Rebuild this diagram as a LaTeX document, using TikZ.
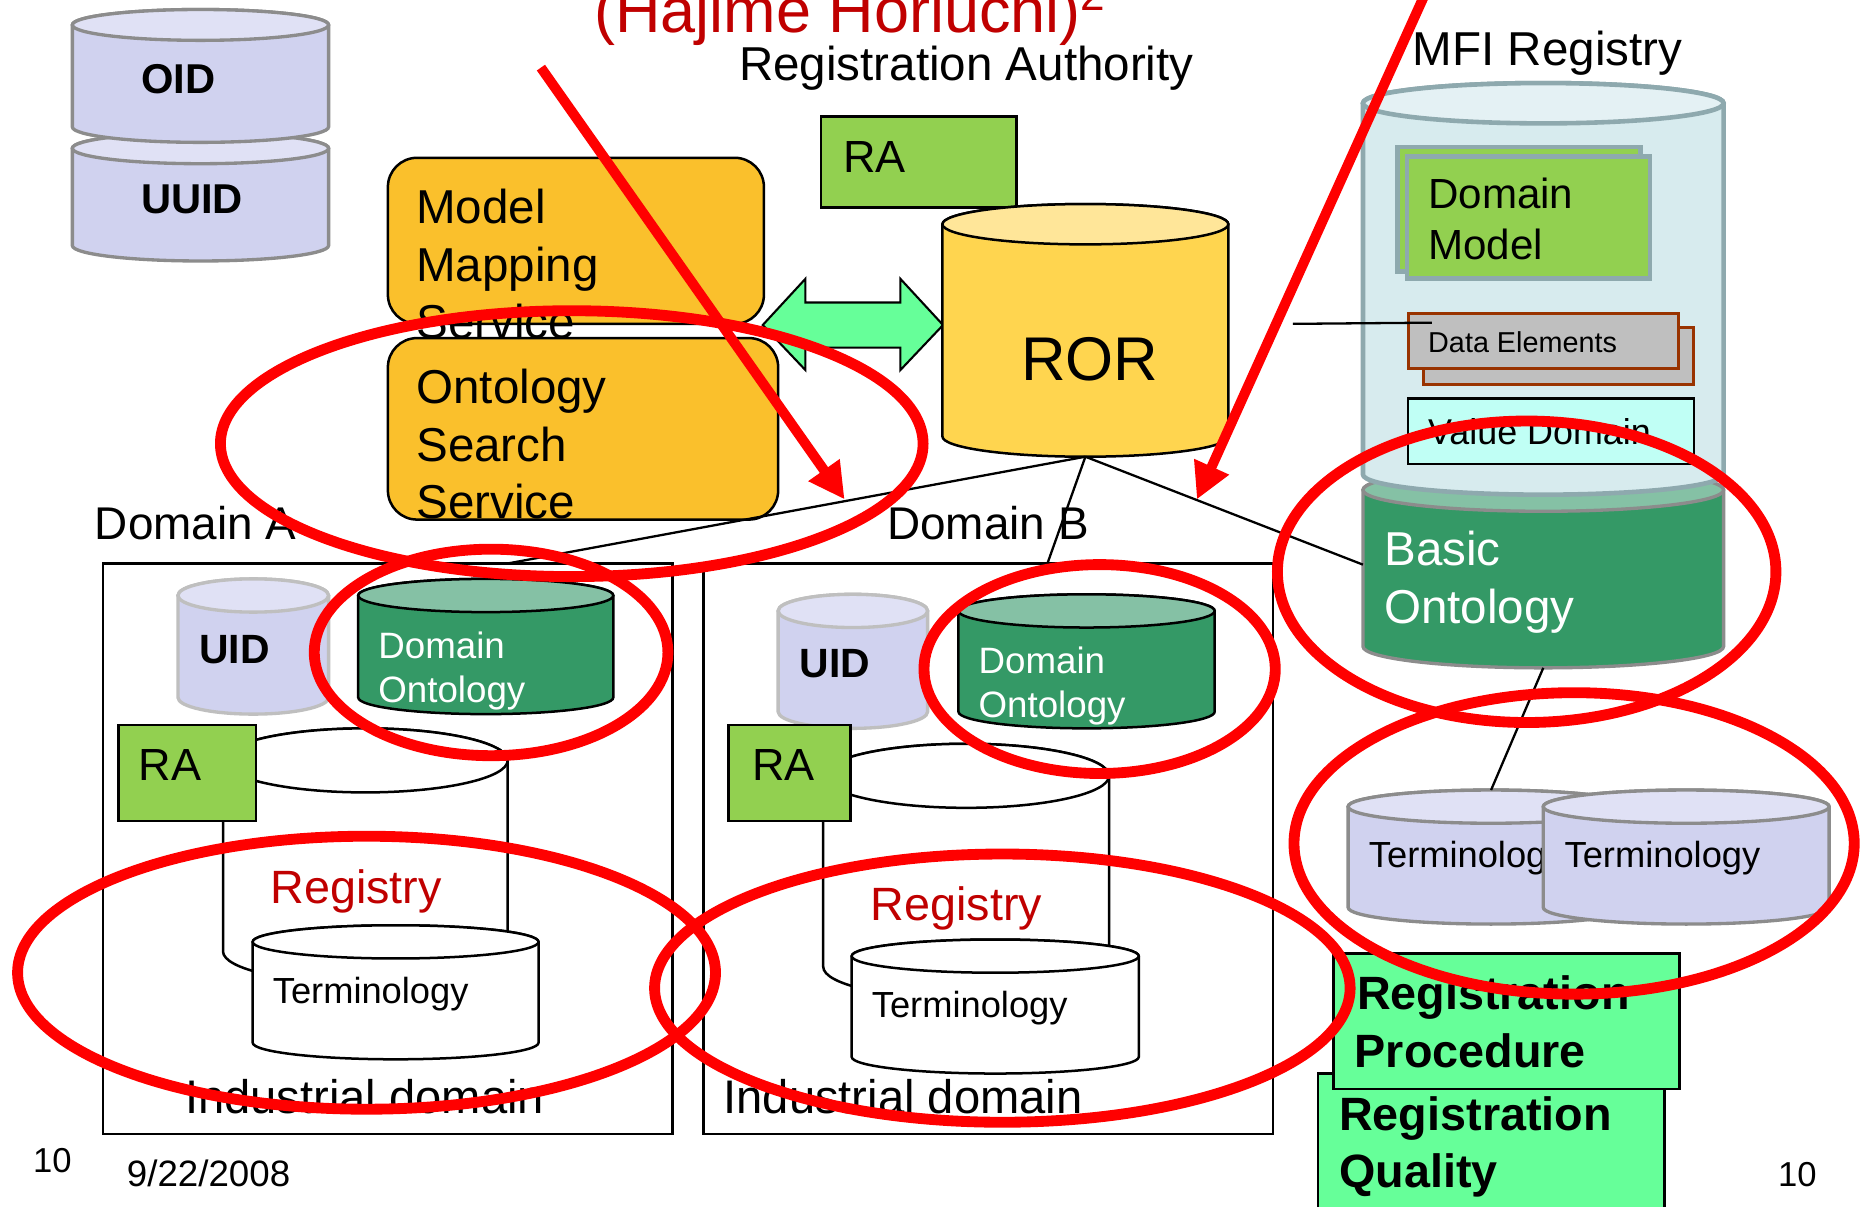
\documentclass[tikz,border=0pt]{standalone}
\usepackage{fontspec}
\setmainfont{Liberation Sans}
\usetikzlibrary{arrows.meta,shapes.geometric}

\definecolor{lav}{RGB}{208,210,239}
\definecolor{lavtop}{RGB}{224,225,245}
\definecolor{graystroke}{RGB}{140,140,140}
\definecolor{lightgraystroke}{RGB}{191,191,191}
\definecolor{orangebox}{RGB}{250,192,44}
\definecolor{rorbody}{RGB}{255,213,79}
\definecolor{rortop}{RGB}{255,230,153}
\definecolor{ragreen}{RGB}{146,208,80}
\definecolor{mint}{RGB}{102,255,153}
\definecolor{dkgreen}{RGB}{52,153,102}
\definecolor{dkgreentop}{RGB}{133,193,165}
\definecolor{mfibody}{RGB}{215,235,238}
\definecolor{mfitop}{RGB}{228,241,244}
\definecolor{mfistroke}{RGB}{142,169,174}
\definecolor{degray}{RGB}{191,191,191}
\definecolor{debrown}{RGB}{153,51,0}
\definecolor{vdcyan}{RGB}{192,255,245}
\definecolor{darkred}{RGB}{192,0,0}
\definecolor{markred}{RGB}{255,0,0}

\newcommand\fsz[1]{\fontsize{#1pt}{#1pt}\selectfont}

% name, cx, ytop, ybot, rx, ry, body, top, style
\newcommand\cyl[9]{%
 \path[#9,fill=#7] ({#2-#5},{-#4}) arc[start angle=180,end angle=360,x radius=#5,y radius=#6] -- ({#2+#5},{-#3}) arc[start angle=0,end angle=180,x radius=#5,y radius=#6] -- cycle;
 \path[#9,fill=#8] (#2,{-#3}) ellipse[x radius=#5,y radius=#6];
 \node[inner sep=0pt,outer sep=0pt,minimum width={2*#5*0.01cm},minimum height={(#4-#3+2*#6)*0.01cm}] (#1) at (#2,{-(#3+#4)/2}) {};
}
% name, x1, y1, x2, y2, style
\newcommand\boxnode[6]{\node[#6,inner sep=0pt,outer sep=0pt,anchor=north west,minimum width={(#4-#2)*0.01cm},minimum height={(#5-#3)*0.01cm}] (#1) at (#2,{-#3}) {};}

\begin{document}
\begin{tikzpicture}[x=0.01cm,y=0.01cm,
  txt/.style={anchor=base west,inner sep=0pt,outer sep=0pt},
  blk/.style={draw=black,line width=0.6pt},
  conn/.style={draw=black,line width=0.55pt},
  redring/.style={ellipse,draw=markred,line width=2.6pt,inner sep=0pt},
  redarrow/.style={draw=markred,line width=2.4pt,-{Triangle[length=8.6pt,width=8.6pt]}}]
\useasboundingbox (0,0) rectangle (1568,-1017);
\clip (0,0) rectangle (1568,-1017);
\fill[white] (0,0) rectangle (1568,-1017);

% OID / UUID
\cyl{uuid}{169}{125}{207}{108}{13}{lav}{lavtop}{draw=graystroke,line width=0.8pt}
\cyl{oid}{169}{21}{107}{108}{13}{lav}{lavtop}{draw=graystroke,line width=0.8pt}
\node[txt,font=\bfseries\fsz{10}] (oidt) at (119,-79) {OID};
\node[txt,font=\bfseries\fsz{10}] (uuidt) at (119,-180) {UUID};

% Model Mapping Service / Ontology Search Service
\boxnode{mms}{327}{133}{644}{273}{blk,fill=orangebox,rounded corners=7pt}
\node[txt,font=\fsz{11.4}] (mms1) at (351,-188) {Model};
\node[txt,font=\fsz{11.4}] (mms2) at (351,-237) {Mapping};
\node[txt,font=\fsz{11.4}] (mms3) at (351,-285) {Service};
\boxnode{oss}{327}{285}{656}{438}{blk,fill=orangebox,rounded corners=7pt}
\node[txt,font=\fsz{11.4}] (oss1) at (351,-340) {Ontology};
\node[txt,font=\fsz{11.4}] (oss2) at (351,-389) {Search};
\node[txt,font=\fsz{11.4}] (oss3) at (351,-437) {Service};

% double arrow
\draw[fill=mint,line width=0.5pt,line join=miter] (643,-274) -- (679,-235) -- (679,-255) -- (759,-255) -- (759,-235) -- (795,-274) -- (759,-312) -- (759,-293) -- (679,-293) -- (679,-312) -- cycle;

% RA and ROR
\boxnode{ratop}{692}{98}{857}{175}{blk,fill=ragreen}
\node[txt,font=\fsz{10.8}] (ratopt) at (711,-145) {RA};
\cyl{ror}{915}{189}{368}{120.5}{17}{rorbody}{rortop}{draw=black,line width=0.6pt}
\node[txt,font=\fsz{14.8}] (rort) at (861,-321) {ROR};

% MFI registry
\cyl{basic}{1301}{413}{545}{152}{18}{dkgreen}{dkgreentop}{draw=graystroke,line width=0.8pt}
\cyl{mfi}{1301}{87}{400}{152}{17}{mfibody}{mfitop}{draw=mfistroke,line width=1.1pt}
\boxnode{dmback}{1178}{124}{1383}{229}{draw=mfistroke,line width=1.1pt,fill=ragreen}
\boxnode{dm}{1186}{132}{1391}{235}{draw=mfistroke,line width=1.1pt,fill=ragreen}
\node[txt,font=\fsz{10.1}] (dm1) at (1204,-176) {Domain};
\node[txt,font=\fsz{10.1}] (dm2) at (1204,-219) {Model};
\boxnode{deback}{1200}{276}{1428}{324}{draw=debrown,line width=0.7pt,fill=degray}
\boxnode{de}{1187}{264}{1415}{311}{draw=debrown,line width=0.7pt,fill=degray}
\node[txt,font=\fsz{6.9}] (det) at (1204,-297) {Data Elements};
\coordinate (lnA) at (1090,-273);
\coordinate (lnB) at (1207,-272);
\draw[conn] (lnA) -- (lnB);
\boxnode{vd}{1187}{336}{1428}{391}{blk,fill=vdcyan}
\node[txt,font=\fsz{8.6}] (vdt) at (1204,-375) {Value Domain};
\node[txt,font=\fsz{11.4},text=white] (bo1) at (1167,-477) {Basic};
\node[txt,font=\fsz{11.4},text=white] (bo2) at (1167,-526) {Ontology};

% terminologies
\cyl{termL}{1257}{680}{765}{120.5}{14}{lav}{lavtop}{draw=graystroke,line width=0.8pt}
\node[txt,font=\fsz{8.7}] (termLt) at (1154,-731) {Terminology};
\cyl{termR}{1421.5}{680}{765}{120.5}{14}{lav}{lavtop}{draw=graystroke,line width=0.8pt}
\node[txt,font=\fsz{8.7}] (termRt) at (1319,-731) {Terminology};
\draw[conn] (basic.south) -- (termL.north);

% Domain boxes
\boxnode{domA}{87}{475}{567}{956}{blk}
\boxnode{domB}{593}{475}{1073}{956}{blk}
\node[txt,font=\fsz{11}] (domAt) at (80,-455) {Domain A};
\node[txt,font=\fsz{11}] (domBt) at (748,-455) {Domain B};
\coordinate (domAin) at (428,-475);
\coordinate (domBin) at (883,-475);
\coordinate (basicin) at (1149,-476);
\draw[conn] (ror.south) -- (domAin);
\draw[conn] (ror.south) -- (domBin);
\draw[conn] (ror.south) -- (basicin);

% Domain A contents
\cyl{uidA}{213.5}{502}{588}{63.5}{14}{lav}{lavtop}{draw=lightgraystroke,line width=0.8pt}
\node[txt,font=\bfseries\fsz{9.8}] (uidAt) at (168,-559) {UID};
\cyl{doA}{409.5}{502}{588}{107.5}{14}{dkgreen}{dkgreentop}{draw=black,line width=0.6pt}
\node[txt,font=\fsz{8.8},text=white] (doA1) at (319,-555) {Domain};
\node[txt,font=\fsz{8.8},text=white] (doA2) at (319,-592) {Ontology};
\cyl{regA}{308}{641}{802}{120}{27}{white}{white}{draw=black,line width=0.6pt}
\boxnode{raA}{100}{611}{216}{692}{blk,fill=ragreen}
\node[txt,font=\fsz{10.8}] (raAt) at (117,-658) {RA};
\node[txt,font=\fsz{11.2},text=darkred] (regAt) at (228,-762) {Registry};
\cyl{terA}{333.5}{794}{879}{120.5}{14}{white}{white}{draw=black,line width=0.6pt}
\node[txt,font=\fsz{8.7}] (terAt) at (230,-846) {Terminology};
\node[txt,font=\fsz{11.3}] (indA) at (156,-939) {Industrial domain};

% Domain B contents
\cyl{uidB}{719}{515}{600}{63}{14}{lav}{lavtop}{draw=lightgraystroke,line width=0.8pt}
\node[txt,font=\bfseries\fsz{9.8}] (uidBt) at (674,-571) {UID};
\cyl{doB}{916}{515}{600}{108}{14}{dkgreen}{dkgreentop}{draw=black,line width=0.6pt}
\node[txt,font=\fsz{8.8},text=white] (doB1) at (825,-568) {Domain};
\node[txt,font=\fsz{8.8},text=white] (doB2) at (825,-605) {Ontology};
\cyl{regB}{814.5}{654}{815}{120.5}{27}{white}{white}{draw=black,line width=0.6pt}
\boxnode{raB}{614}{611}{717}{692}{blk,fill=ragreen}
\node[txt,font=\fsz{10.8}] (raBt) at (634,-658) {RA};
\node[txt,font=\fsz{11.2},text=darkred] (regBt) at (734,-776) {Registry};
\cyl{terB}{839}{806}{891}{121}{14}{white}{white}{draw=black,line width=0.6pt}
\node[txt,font=\fsz{8.7}] (terBt) at (735,-858) {Terminology};
\node[txt,font=\fsz{11.3}] (indB) at (610,-939) {Industrial domain};

% Registration boxes
\boxnode{rq}{1111}{905}{1403}{1040}{blk,fill=mint}
\node[txt,font=\bfseries\fsz{11.2}] (rq1) at (1129,-953) {Registration};
\node[txt,font=\bfseries\fsz{11.2}] (rq2) at (1129,-1001) {Quality};
\boxnode{rp}{1124}{804}{1416}{918}{blk,fill=mint}
\node[txt,font=\bfseries\fsz{11.2}] (rp1) at (1144,-851) {Registration};
\node[txt,font=\bfseries\fsz{11.2}] (rp2) at (1142,-900) {Procedure};

% titles and footers
\node[txt,font=\fsz{15.1},text=darkred] (title) at (501,-27.5) {(Hajime Horiuchi)\textsuperscript{2}};
\node[txt,font=\fsz{11.4}] (rat) at (623,-67.5) {Registration Authority};
\node[txt,font=\fsz{11.4}] (mfit) at (1191,-55) {MFI Registry};
\node[txt,font=\fsz{8.3}] (pgL) at (28,-988) {10};
\node[txt,font=\fsz{8.8}] (date) at (107,-1000) {9/22/2008};
\node[txt,font=\fsz{8.3}] (pgR) at (1499,-1000) {10};

% red markings
\node[redring,minimum width=5.92cm,minimum height=2.24cm] (e1) at (482,-374) {};
\node[redring,minimum width=2.98cm,minimum height=1.74cm] (e2) at (414,-550) {};
\node[redring,minimum width=2.96cm,minimum height=1.76cm] (e3) at (927,-564) {};
\node[redring,minimum width=5.88cm,minimum height=2.30cm] (e4) at (309,-820) {};
\node[redring,minimum width=5.86cm,minimum height=2.26cm] (e5) at (845,-833) {};
\node[redring,minimum width=4.20cm,minimum height=2.54cm] (e6) at (1287,-482) {};
\node[redring,minimum width=4.72cm,minimum height=2.54cm] (e7) at (1327,-711) {};
\coordinate (a1s) at (456,-57);
\coordinate (a1e) at (712,-421);
\coordinate (a2s) at (1203.5,10);
\coordinate (a2e) at (1009,-421);
\draw[redarrow] (a1s) -- (a1e);
\draw[redarrow] (a2s) -- (a2e);
\end{tikzpicture}
\end{document}
